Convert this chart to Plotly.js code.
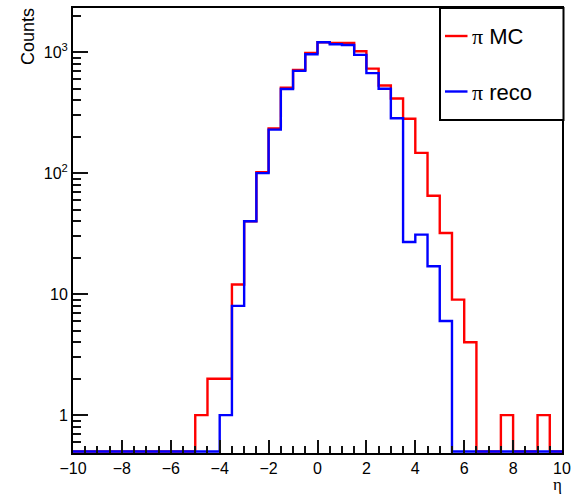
<!DOCTYPE html>
<html>
<head>
<meta charset="utf-8">
<script src="https://cdn.plot.ly/plotly-3.0.1.min.js"></script>
<style>html,body{margin:0;padding:0;background:#fff;}#chart{width:572px;height:498px;}</style>
</head>
<body>
<div id="chart"></div>
<script>
// Histogram of pseudorapidity, 40 bins of width 0.5 from -10 to 10
const binLow = [-10,-9.5,-9,-8.5,-8,-7.5,-7,-6.5,-6,-5.5,-5,-4.5,-4,-3.5,-3,-2.5,-2,-1.5,-1,-0.5,
                0,0.5,1,1.5,2,2.5,3,3.5,4,4.5,5,5.5,6,6.5,7,7.5,8,8.5,9,9.5];
const binHigh = 10;
const mcCounts = [0,0,0,0,0,0,0,0,0,0, 1,2,2,12,40,102,234,507,713,985,
                  1206,1191,1191,1017,731,530,414,281,147,65, 32,9,4,0,0,1,0,0,1,0];
const recoCounts = [0,0,0,0,0,0,0,0,0,0, 0,0,1,8,40,100,229,495,700,961,
                    1206,1161,1146,948,670,498,284,27,31,17, 6,0,0,0,0,0,0,0,0,0];
const seriesParticle = ['π', 'π'];
const seriesLabel = ['MC', 'reco'];
const xTickVals = [-10,-8,-6,-4,-2,0,2,4,6,8,10];
const xMinorVals = [-9.5,-9,-8.5,-7.5,-7,-6.5,-5.5,-5,-4.5,-3.5,-3,-2.5,-1.5,-1,-0.5,
                    0.5,1,1.5,2.5,3,3.5,4.5,5,5.5,6.5,7,7.5,8.5,9,9.5];
const yTickVals = [1,10,100,1000];
const yTickText = ['1','10','10<sup>2</sup>','10<sup>3</sup>'];
const yMinorVals = [0.6,0.7,0.8,0.9,2,3,4,5,6,7,8,9,20,30,40,50,60,70,80,90,200,300,400,500,600,700,800,900,2000];

const yFloor = 0.5; // ROOT draws empty bins at the frame bottom on log scale
function stepX() { return binLow.concat([binHigh]); }
function stepY(c) { const v = c.map(n => n > 0 ? n : yFloor); return v.concat([v[v.length-1]]); }

const font = 'Liberation Sans, Arial, Helvetica, sans-serif';
const serif = 'Liberation Serif';
const traces = [
  // invisible anchor points so the minor-tick overlay axes are drawn
  {x: [0], y: [1], xaxis: 'x2', yaxis: 'y', type: 'scatter', mode: 'markers', marker: {opacity: 0}, showlegend: false},
  {x: [0], y: [1], xaxis: 'x', yaxis: 'y2', type: 'scatter', mode: 'markers', marker: {opacity: 0}, showlegend: false},
  {x: stepX(), y: stepY(mcCounts), type: 'scatter', mode: 'lines',
   line: {shape: 'hv', color: '#ff0000', width: 2.4}},
  {x: stepX(), y: stepY(recoCounts), type: 'scatter', mode: 'lines',
   line: {shape: 'hv', color: '#0000ff', width: 2.4}}
];

const L = 73, R = 10, T = 8, B = 45, W = 572, H = 498;
const pw = W - L - R, ph = H - T - B;
const px = v => (v - L) / pw;
const py = v => (H - B - v) / ph;
const xRange = [-10, 10];
const yRange = [Math.log10(0.5) - 0.012, 3.3646];
const tickFont = {family: font, size: 16, color: '#000'};

const layout = {
  width: W, height: H,
  margin: {l: L, r: R, t: T, b: B, pad: 0},
  showlegend: false,
  xaxis: {
    range: xRange, showgrid: false, zeroline: false, showline: true, linecolor: '#000', linewidth: 2, mirror: true,
    ticks: 'inside', tickvals: xTickVals, ticklen: 13, tickwidth: 2, tickcolor: '#111', tickfont: tickFont
  },
  yaxis: {
    type: 'log', range: yRange, showgrid: false, zeroline: false, showline: true, linecolor: '#000', linewidth: 2, mirror: true,
    ticks: 'inside', tickvals: yTickVals, ticktext: yTickText, ticklen: 15, tickwidth: 2, tickcolor: '#111', tickfont: tickFont
  },
  xaxis2: {
    overlaying: 'x', anchor: 'y', side: 'bottom', range: xRange, showgrid: false, zeroline: false,
    ticks: 'inside', tickvals: xMinorVals, ticklen: 7, tickwidth: 2, tickcolor: '#111', showticklabels: false
  },
  yaxis2: {
    overlaying: 'y', anchor: 'x', side: 'left', type: 'log', range: yRange, showgrid: false, zeroline: false,
    ticks: 'inside', tickvals: yMinorVals, ticklen: 8, tickwidth: 2, tickcolor: '#111', showticklabels: false
  },
  shapes: [
    {type: 'rect', xref: 'paper', yref: 'paper', x0: px(440), x1: px(563.5), y0: py(120), y1: py(8),
     fillcolor: 'white', line: {color: '#000', width: 2}, layer: 'above'},
    {type: 'line', xref: 'paper', yref: 'paper', x0: px(445), x1: px(467.5), y0: py(36), y1: py(36),
     line: {color: '#ff0000', width: 2.4}, layer: 'above'},
    {type: 'line', xref: 'paper', yref: 'paper', x0: px(445), x1: px(467.5), y0: py(91.5), y1: py(91.5),
     line: {color: '#0000ff', width: 2.4}, layer: 'above'}
  ],
  annotations: [
    {xref: 'paper', yref: 'paper', x: px(470), y: py(37), xanchor: 'left', yanchor: 'middle', showarrow: false,
     text: '<span style="font-family:' + serif + '">' + seriesParticle[0] + '</span> ' + seriesLabel[0],
     font: {family: font, size: 22, color: '#000'}},
    {xref: 'paper', yref: 'paper', x: px(470), y: py(92), xanchor: 'left', yanchor: 'middle', showarrow: false,
     text: '<span style="font-family:' + serif + '">' + seriesParticle[1] + '</span> ' + seriesLabel[1],
     font: {family: font, size: 22, color: '#000'}},
    {xref: 'paper', yref: 'paper', x: px(27.5), y: py(6), xanchor: 'center', yanchor: 'top', showarrow: false,
     textangle: -90, text: 'Counts', font: {family: font, size: 18, color: '#000'}},
    {xref: 'paper', yref: 'paper', x: px(564), y: py(485), xanchor: 'right', yanchor: 'middle', showarrow: false,
     text: 'η', font: {family: serif, size: 17, color: '#000'}}
  ]
};

Plotly.newPlot('chart', traces, layout, {displayModeBar: false});
</script>
</body>
</html>
